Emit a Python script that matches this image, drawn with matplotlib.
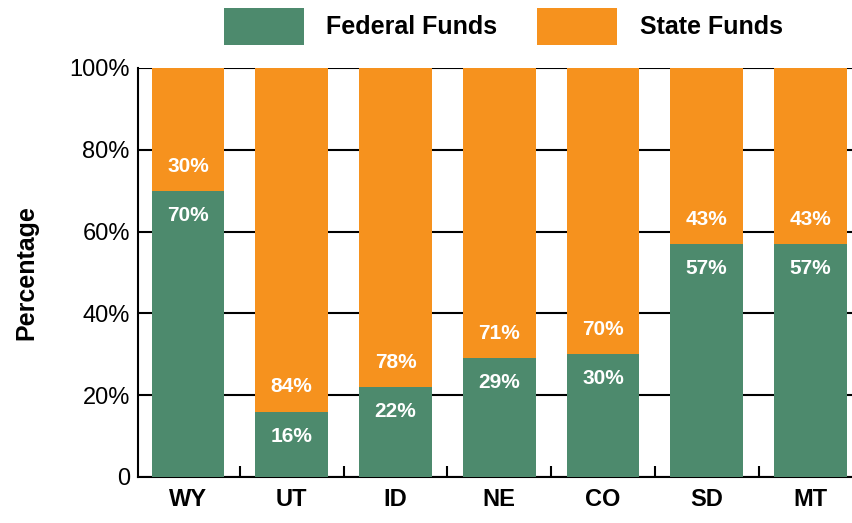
import matplotlib.pyplot as plt
import numpy as np

states = ["WY", "UT", "ID", "NE", "CO", "SD", "MT"]
federal = [70, 16, 22, 29, 30, 57, 57]
state = [30, 84, 78, 71, 70, 43, 43]

green = "#4d8a6d"
orange = "#f6921e"

plt.rcParams["font.family"] = ["Liberation Sans Narrow", "Liberation Sans", "DejaVu Sans"]

fig = plt.figure(figsize=(8.53, 5.23), dpi=100)
ax = fig.add_axes([0.162, 0.088, 0.838, 0.782])

x = np.arange(len(states))
ax.bar(x, federal, width=0.7, color=green, label="Federal Funds", zorder=3)
ax.bar(x, state, width=0.7, bottom=federal, color=orange, label="State Funds", zorder=3)

for xi, f, s in zip(x, federal, state):
    ax.text(xi, f - 6, f"{f}%", ha="center", va="center", color="white",
            fontsize=15, fontweight="bold", zorder=4)
    ax.text(xi, f + 6, f"{s}%", ha="center", va="center", color="white",
            fontsize=15, fontweight="bold", zorder=4)

ax.set_xlim(-0.48, 6.41)
ax.set_ylim(0, 100)
ax.set_yticks([0, 20, 40, 60, 80, 100])
ax.set_yticklabels(["0", "20%", "40%", "60%", "80%", "100%"], fontsize=17)
ax.set_xticks(x)
ax.set_xticklabels(states, fontsize=17, fontweight="bold")
ax.set_xticks(x[:-1] + 0.5, minor=True)
ax.tick_params(axis="x", which="major", length=0, pad=8)
ax.tick_params(axis="x", which="minor", direction="in", length=8, width=1.5)
ax.tick_params(axis="y", length=0, pad=6)
ax.yaxis.grid(True, color="black", linewidth=1.5, zorder=0)
ax.set_axisbelow(True)

for sp in ["top", "right"]:
    ax.spines[sp].set_visible(False)
ax.spines["left"].set_linewidth(1.5)
ax.spines["bottom"].set_linewidth(1.5)

ax.set_ylabel("Percentage", fontsize=18, fontweight="bold", labelpad=22)

fig.legend(loc="center", bbox_to_anchor=(0.59, 0.95), ncol=2, frameon=False,
           prop={"size": 18, "weight": "bold"}, handlelength=3.2, handleheight=1.9,
           columnspacing=1.6, handletextpad=0.9)

fig.savefig("out.png", dpi=100)
